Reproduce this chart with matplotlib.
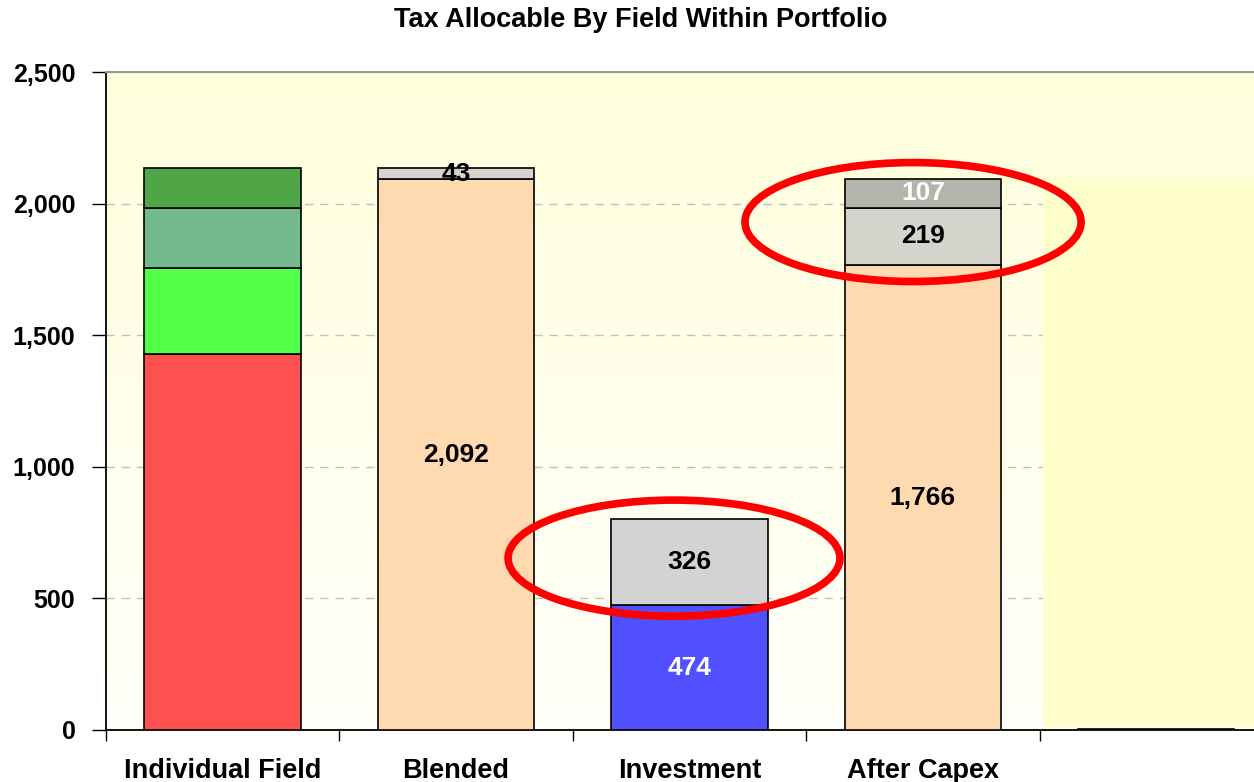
import numpy as np
import matplotlib
matplotlib.use('Agg')
import matplotlib.pyplot as plt
from matplotlib.patches import Ellipse, Rectangle

plt.rcParams['font.family'] = ['Liberation Sans', 'DejaVu Sans']
plt.rcParams['font.weight'] = 'bold'

# Data
categories = ['Individual Field', 'Blended', 'Investment', 'After Capex', '']
individual_field = [1428, 327, 228, 152]
blended = [2092, 43]
investment = [474, 326]
after_capex = [1766, 219, 107]
remainder = [5]

stacks = [individual_field, blended, investment, after_capex, remainder]
stack_colors = [
    ['#FF5050', '#50FF46', '#73B98C', '#50A546'],
    ['#FFDAB0', '#D4D4CC'],
    ['#5050FF', '#D3D3D3'],
    ['#FFDAB0', '#D4D4CC', '#B4B4AA'],
    ['#FFDAB0'],
]
show_labels = [False, True, True, True, False]
label_colors = {'#5050FF': 'white', '#B4B4AA': 'white'}

fig = plt.figure(figsize=(12.54, 7.82), dpi=100)
ax = fig.add_axes([0.0845, 0.0665, 0.9306, 0.8414])

# gradient background for the plot area
grad = np.linspace(0, 1, 256).reshape(-1, 1)
bg = np.ones((256, 1, 3))
top = np.array([1.0, 1.0, 0xDC / 255])
bottom = np.array([1.0, 1.0, 0xFA / 255])
bg[:, 0, :] = top * (1 - grad) + bottom * grad
ax.imshow(bg, extent=[0, 1, 0, 1], transform=ax.transAxes, aspect='auto', zorder=0)

x = np.arange(len(categories))
width = 0.67
for i, (segs, cols) in enumerate(zip(stacks, stack_colors)):
    base = 0
    for val, col in zip(segs, cols):
        ax.bar(x[i], val, width, bottom=base, color=col, edgecolor='black',
               linewidth=1.2, zorder=3)
        if show_labels[i]:
            ax.text(x[i], base + val / 2, f'{val:,}', ha='center', va='center',
                    fontsize=19, fontweight='bold',
                    color=label_colors.get(col, 'black'), zorder=4)
        base += val

# pale box on the right
ax.add_patch(Rectangle((3.514, 10), 1.2, 2087, facecolor='#FFFFCC',
                       edgecolor='none', zorder=2))

# highlight ellipses
ax.add_patch(Ellipse((1.934, 653), 1.422, 441, fill=False, edgecolor='#FF0000',
                     linewidth=5.5, zorder=5))
ax.add_patch(Ellipse((2.958, 1930), 1.44, 452, fill=False, edgecolor='#FF0000',
                     linewidth=5.5, zorder=5))

ax.set_xlim(-0.5, 4.5)
ax.set_ylim(0, 2500)
yticks = [0, 500, 1000, 1500, 2000, 2500]
ax.set_yticks(yticks)
ax.set_yticklabels([f'{v:,}' for v in yticks], fontsize=18, fontweight='bold')
ax.set_xticks(np.arange(-0.5, 4.6, 1.0))
ax.set_xticklabels([])
ax.set_xticks(x, minor=True)
ax.set_xticklabels(categories, minor=True, fontsize=19.5, fontweight='bold')
ax.tick_params(axis='x', which='minor', length=0, pad=20)
ax.tick_params(axis='x', which='major', length=8, width=1, direction='out')
ax.tick_params(axis='y', length=10, width=1, direction='out', pad=12)

ax.yaxis.grid(True, linestyle=(0, (6, 5)), color='#C0C0C0', linewidth=1, zorder=1)
ax.set_axisbelow(True)
for s in ['left', 'bottom']:
    ax.spines[s].set_color('black')
    ax.spines[s].set_linewidth(1.3)
ax.spines['top'].set_color('#999999')
ax.spines['top'].set_linewidth(1.5)
ax.spines['right'].set_visible(False)

fig.text(0.511, 0.975, 'Tax Allocable By Field Within Portfolio', ha='center',
         va='center', fontsize=19.5, fontweight='bold')

fig.savefig('out.png', dpi=100)
